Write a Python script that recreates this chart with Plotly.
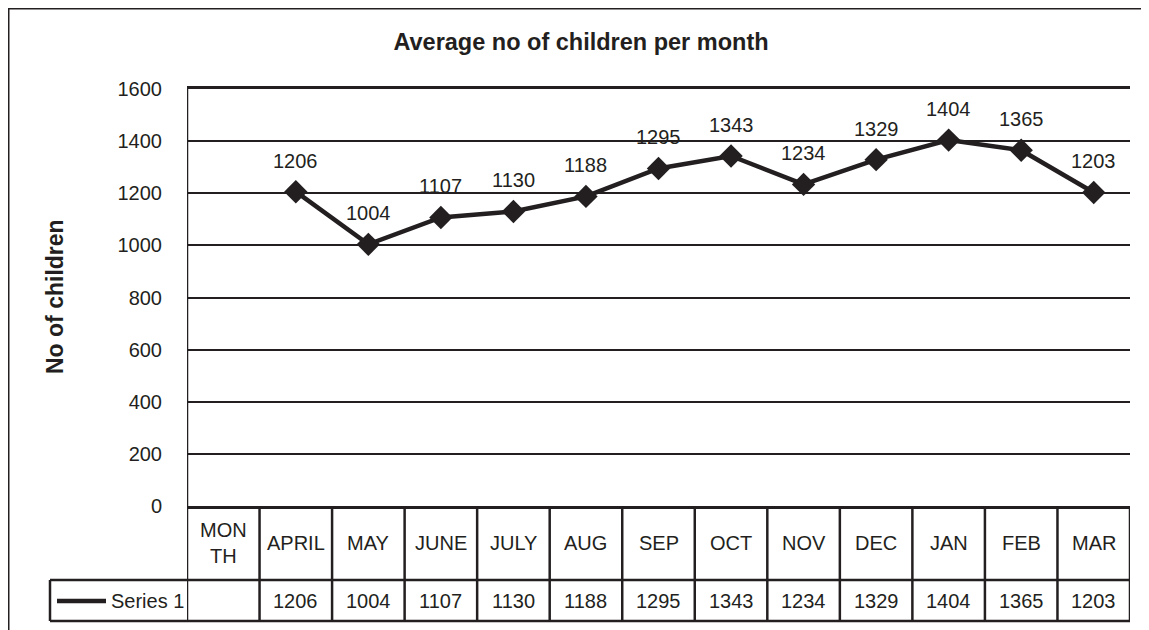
import plotly.graph_objects as go

categories = ["MONTH", "APRIL", "MAY", "JUNE", "JULY", "AUG", "SEP", "OCT", "NOV", "DEC", "JAN", "FEB", "MAR"]
header_labels = ["MON<br>TH", "APRIL", "MAY", "JUNE", "JULY", "AUG", "SEP", "OCT", "NOV", "DEC", "JAN", "FEB", "MAR"]
series_values = [None, 1206, 1004, 1107, 1130, 1188, 1295, 1343, 1234, 1329, 1404, 1365, 1203]
series_name = "Series 1"
y_ticks = [0, 200, 400, 600, 800, 1000, 1200, 1400, 1600]

INK = "#231f20"
FONT = "Liberation Sans, Arial, sans-serif"

OFF = 8  # page body margin
W, H = 1149 - OFF, 630 - OFF
L, R, T, B = 187 - OFF, 1130 - OFF, 89 - OFF, 506 - OFF
pw, ph = R - L, B - T


def px(x):
    return (x - OFF - L) / pw


def py(y):
    return (B - (y - OFF)) / ph


fig = go.Figure()
fig.add_trace(go.Scatter(
    x=categories, y=series_values, mode="lines+markers", name=series_name,
    line=dict(color=INK, width=4.5),
    marker=dict(symbol="diamond", size=18, color=INK),
    connectgaps=False, showlegend=False, cliponaxis=False,
))

annotations = []
for c, v in zip(categories, series_values):
    if v is not None:
        annotations.append(dict(x=c, y=v, xref="x", yref="y", text=str(v), showarrow=False,
                                yshift=31, font=dict(size=20, color=INK, family=FONT)))

# table text
row1_y = py(543)
row2_y = py(601)
for c, lab, v in zip(categories, header_labels, series_values):
    annotations.append(dict(x=c, y=row1_y, xref="x", yref="paper", text=lab, showarrow=False,
                            font=dict(size=20, color=INK, family=FONT), yanchor="middle"))
    if v is not None:
        annotations.append(dict(x=c, y=row2_y, xref="x", yref="paper", text=str(v), showarrow=False,
                                font=dict(size=20, color=INK, family=FONT), yanchor="middle"))
annotations.append(dict(x=px(109), y=row2_y, xref="paper", yref="paper", text=series_name, showarrow=False,
                        xanchor="left", yanchor="middle", font=dict(size=20, color=INK, family=FONT)))
# axis title
annotations.append(dict(x=px(55), y=py(297), xref="paper", yref="paper", text="<b>No of children</b>",
                        xanchor="center", yanchor="middle",
                        showarrow=False, textangle=-90, font=dict(size=23, color=INK, family=FONT)))

shapes = []
lw = 2.5
# outer border (cropped on right and bottom)
shapes.append(dict(type="rect", xref="paper", yref="paper", x0=px(8), x1=px(1170), y0=py(650), y1=py(8),
                   line=dict(color=INK, width=3)))
# table vertical lines
n = len(categories)
for i in range(n + 1):
    xv = i - 0.5
    shapes.append(dict(type="line", xref="x", yref="paper", x0=xv, x1=xv, y0=py(621), y1=0 if i > 0 else 1,
                       line=dict(color=INK, width=lw)))
# table horizontal lines
shapes.append(dict(type="line", xref="paper", yref="paper", x0=px(50), x1=1, y0=py(580), y1=py(580),
                   line=dict(color=INK, width=lw)))
shapes.append(dict(type="line", xref="paper", yref="paper", x0=px(50), x1=1, y0=py(621), y1=py(621),
                   line=dict(color=INK, width=lw)))
shapes.append(dict(type="line", xref="paper", yref="paper", x0=px(50), x1=px(50), y0=py(621), y1=py(580),
                   line=dict(color=INK, width=lw)))
# legend key
shapes.append(dict(type="line", xref="paper", yref="paper", x0=px(57), x1=px(106), y0=row2_y, y1=row2_y,
                   line=dict(color=INK, width=4.5)))

fig.update_layout(
    width=W, height=H,
    margin=dict(l=L, r=W - R, t=T, b=H - B, pad=0),
    paper_bgcolor="white", plot_bgcolor="white",
    title=dict(text="<b>Average no of children per month</b>", x=(581 - OFF) / W, xanchor="center",
               y=1 - (42 - OFF) / H, yanchor="middle", font=dict(size=23.5, color=INK, family=FONT)),
    xaxis=dict(type="category", categoryorder="array", categoryarray=categories,
               range=[-0.5, n - 0.5], showticklabels=False, showgrid=False, zeroline=False,
               showline=True, mirror=True, linecolor=INK, linewidth=2.5, ticks=""),
    yaxis=dict(range=[0, 1600], tickvals=y_ticks, ticktext=[str(t) for t in y_ticks],
               showgrid=True, gridcolor=INK, gridwidth=2, zeroline=False, showline=False,
               ticks="", ticklabelstandoff=24,
               tickfont=dict(size=20, color=INK, family=FONT)),
    annotations=annotations, shapes=shapes,
    font=dict(family=FONT, color=INK),
)

fig.write_html("out.html")
